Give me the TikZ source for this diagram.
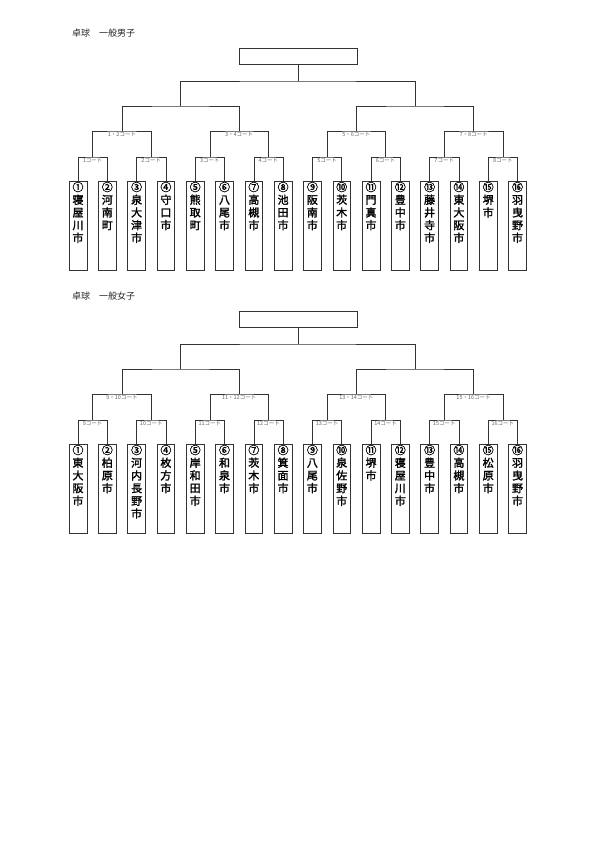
\documentclass[tikz,border=0pt]{standalone}
\usepackage{fontspec}
\newfontfamily\cjk{Noto Sans CJK JP}
\newfontfamily\cjkb{Noto Sans CJK JP}[FakeBold=1.8]
\usetikzlibrary{calc}
\tikzset{
  ln/.style={draw=black!80, line width=0.6pt},
  leaf/.style={draw=black!80, line width=0.6pt, inner sep=0pt, anchor=north,
    font=\cjkb\fontsize{11pt}{12.7pt}\selectfont},
  court/.style={font=\cjk\fontsize{5.5pt}{5.5pt}\selectfont, text=black!60, inner sep=0.5pt,
    anchor=north, yshift=-1pt},
  final/.style={draw=black!80, line width=0.6pt, minimum width=118pt, minimum height=16pt, inner sep=0pt},
  ttl/.style={font=\cjk\fontsize{9pt}{9pt}\selectfont, anchor=west, inner sep=0pt, text=black!85}
}
\newcommand\leafbox[1]{\parbox[t][89pt][t]{17.7pt}{\centering\vspace*{0.6pt}#1}}
\begin{document}
\begin{tikzpicture}[x=1pt,y=-1pt]
\fill[white] (0,0) rectangle (595,842);
\useasboundingbox (0,0) rectangle (595,842);

% titles
\node[ttl] (mt) at (72,33) {卓球　一般男子};
\node[ttl] (wt) at (72,296) {卓球　一般女子};

% final boxes
\node[final] (mtop) at (297.8,56) {};
\node[final] (wtop) at (297.8,319) {};

% men leaves
\node[leaf] (m1)  at (78,181)    {\leafbox{①\\寝\\屋\\川\\市}};
\node[leaf] (m2)  at (107.3,181) {\leafbox{②\\河\\南\\町}};
\node[leaf] (m3)  at (136.6,181) {\leafbox{③\\泉\\大\\津\\市}};
\node[leaf] (m4)  at (165.9,181) {\leafbox{④\\守\\口\\市}};
\node[leaf] (m5)  at (195.2,181) {\leafbox{⑤\\熊\\取\\町}};
\node[leaf] (m6)  at (224.5,181) {\leafbox{⑥\\八\\尾\\市}};
\node[leaf] (m7)  at (253.8,181) {\leafbox{⑦\\高\\槻\\市}};
\node[leaf] (m8)  at (283.1,181) {\leafbox{⑧\\池\\田\\市}};
\node[leaf] (m9)  at (312.4,181) {\leafbox{⑨\\阪\\南\\市}};
\node[leaf] (m10) at (341.7,181) {\leafbox{⑩\\茨\\木\\市}};
\node[leaf] (m11) at (371.0,181) {\leafbox{⑪\\門\\真\\市}};
\node[leaf] (m12) at (400.3,181) {\leafbox{⑫\\豊\\中\\市}};
\node[leaf] (m13) at (429.6,181) {\leafbox{⑬\\藤\\井\\寺\\市}};
\node[leaf] (m14) at (458.9,181) {\leafbox{⑭\\東\\大\\阪\\市}};
\node[leaf] (m15) at (488.2,181) {\leafbox{⑮\\堺\\市}};
\node[leaf] (m16) at (517.5,181) {\leafbox{⑯\\羽\\曳\\野\\市}};

% women leaves
\node[leaf] (w1)  at (78,444)    {\leafbox{①\\東\\大\\阪\\市}};
\node[leaf] (w2)  at (107.3,444) {\leafbox{②\\柏\\原\\市}};
\node[leaf] (w3)  at (136.6,444) {\leafbox{③\\河\\内\\長\\野\\市}};
\node[leaf] (w4)  at (165.9,444) {\leafbox{④\\枚\\方\\市}};
\node[leaf] (w5)  at (195.2,444) {\leafbox{⑤\\岸\\和\\田\\市}};
\node[leaf] (w6)  at (224.5,444) {\leafbox{⑥\\和\\泉\\市}};
\node[leaf] (w7)  at (253.8,444) {\leafbox{⑦\\茨\\木\\市}};
\node[leaf] (w8)  at (283.1,444) {\leafbox{⑧\\箕\\面\\市}};
\node[leaf] (w9)  at (312.4,444) {\leafbox{⑨\\八\\尾\\市}};
\node[leaf] (w10) at (341.7,444) {\leafbox{⑩\\泉\\佐\\野\\市}};
\node[leaf] (w11) at (371.0,444) {\leafbox{⑪\\堺\\市}};
\node[leaf] (w12) at (400.3,444) {\leafbox{⑫\\寝\\屋\\川\\市}};
\node[leaf] (w13) at (429.6,444) {\leafbox{⑬\\豊\\中\\市}};
\node[leaf] (w14) at (458.9,444) {\leafbox{⑭\\高\\槻\\市}};
\node[leaf] (w15) at (488.2,444) {\leafbox{⑮\\松\\原\\市}};
\node[leaf] (w16) at (517.5,444) {\leafbox{⑯\\羽\\曳\\野\\市}};

\foreach \p/\off/\base in {m/0/0, w/263/8} {
  % level 4 junctions
  \foreach \k in {1,...,8} {
    \pgfmathsetmacro\xa{78+29.3*(2*\k-2)+14.65}
    \pgfmathtruncatemacro\i{2*\k-1}
    \pgfmathtruncatemacro\j{2*\k}
    \pgfmathtruncatemacro\c{\base+\k}
    \coordinate (\p a\k) at (\xa,157+\off);
    \draw[ln] (\p\i.north) |- (\p a\k) -| (\p\j.north);
    \node[court] (\p ca\k) at (\p a\k) {\c コート};
  }
  % level 3 junctions
  \foreach \k in {1,...,4} {
    \pgfmathsetmacro\xb{78+29.3*(4*\k-4)+43.95}
    \pgfmathtruncatemacro\i{2*\k-1}
    \pgfmathtruncatemacro\j{2*\k}
    \pgfmathtruncatemacro\ca{\base+2*\k-1}
    \pgfmathtruncatemacro\cb{\base+2*\k}
    \coordinate (\p b\k) at (\xb,131+\off);
    \draw[ln] (\p a\i) |- (\p b\k) -| (\p a\j);
    \node[court] (\p cb\k) at (\p b\k) {\ca・\cb コート};
  }
  % level 2 junctions
  \foreach \k in {1,2} {
    \pgfmathsetmacro\xc{78+29.3*(8*\k-8)+102.55}
    \pgfmathtruncatemacro\i{2*\k-1}
    \pgfmathtruncatemacro\j{2*\k}
    \coordinate (\p c\k) at (\xc,106+\off);
    \draw[ln] (\p b\i) |- (\p c\k) -| (\p b\j);
  }
  % level 1
  \coordinate (\p d) at (297.8,81+\off);
  \draw[ln] (\p c1) |- (\p d) -| (\p c2);
  \draw[ln] (\p top.south) -- (\p d);
}
\end{tikzpicture}
\end{document}
